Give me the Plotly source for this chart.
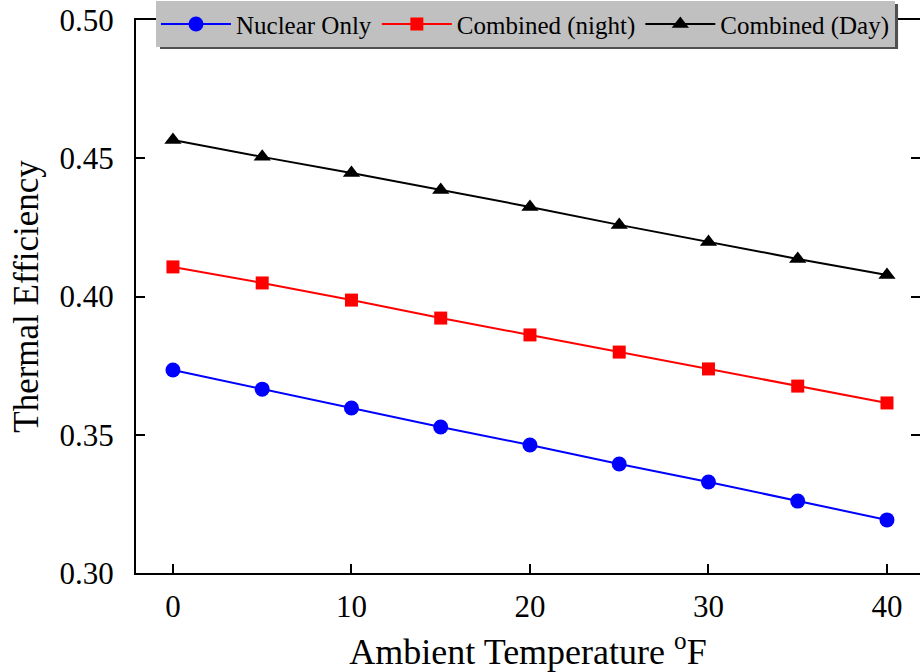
import plotly.graph_objects as go

temps = [0, 5, 10, 15, 20, 25, 30, 35, 40]
nuclear_only = [0.3734, 0.3665, 0.3597, 0.3528, 0.3463, 0.3394, 0.3329, 0.3260, 0.3192]
combined_night = [0.4107, 0.4049, 0.3987, 0.3922, 0.3861, 0.3799, 0.3738, 0.3676, 0.3615]
combined_day = [0.4566, 0.4505, 0.4447, 0.4385, 0.4324, 0.4259, 0.4197, 0.4136, 0.4078]

y_ticks = [0.30, 0.35, 0.40, 0.45, 0.50]
x_ticks = [0, 10, 20, 30, 40]

FONT = "Liberation Serif, Times New Roman, serif"

fig = go.Figure()
fig.add_trace(go.Scatter(x=temps, y=nuclear_only, mode="lines+markers", name="Nuclear Only",
                         line=dict(color="#0000ff", width=2),
                         marker=dict(symbol="circle", size=15, color="#0000ff")))
fig.add_trace(go.Scatter(x=temps, y=combined_night, mode="lines+markers", name="Combined (night)",
                         line=dict(color="#ff0000", width=2),
                         marker=dict(symbol="square", size=13, color="#ff0000")))
fig.add_trace(go.Scatter(x=temps, y=combined_day, mode="lines+markers", name="Combined (Day)",
                         line=dict(color="#000000", width=2),
                         marker=dict(symbol="triangle-up", size=15, color="#000000")))
# invisible trace to carry the right-hand tick axis
fig.add_trace(go.Scatter(x=[temps[0]], y=[nuclear_only[0]], yaxis="y2", mode="markers",
                         marker=dict(opacity=0), showlegend=False, hoverinfo="skip"))

fig.update_layout(
    width=920, height=672,
    margin=dict(l=136, r=0, t=20, b=99, autoexpand=False),
    paper_bgcolor="white", plot_bgcolor="white",
    font=dict(family=FONT, color="black"),
    showlegend=True,
    legend=dict(orientation="h", x=0.0255, xanchor="left", y=1.034, yanchor="top",
                bgcolor="#c0c0c0", borderwidth=0,
                font=dict(family=FONT, size=25, color="black"),
                itemwidth=70, tracegroupgap=0),
    xaxis=dict(range=[-2.07, 41.85], tickvals=x_ticks, ticks="inside", ticklen=9, tickwidth=2,
               tickcolor="black", showline=True, linewidth=2, linecolor="black", mirror=True,
               showgrid=False, zeroline=False,
               tickfont=dict(family=FONT, size=31), ticklabelstandoff=5,
               title=dict(text="Ambient Temperature <sup>o</sup>F", font=dict(family=FONT, size=36),
                          standoff=20)),
    yaxis=dict(range=[0.30, 0.50], tickvals=y_ticks, tickformat=".2f", ticks="inside", ticklen=9,
               tickwidth=2, tickcolor="black", showline=True, linewidth=2, linecolor="black",
               mirror=False, showgrid=False, zeroline=False,
               tickfont=dict(family=FONT, size=31), ticklabelstandoff=14,
               title=dict(text="Thermal Efficiency", font=dict(family=FONT, size=35), standoff=10)),
    yaxis2=dict(overlaying="y", side="right", matches="y", tickvals=y_ticks, ticks="inside",
                ticklen=9, tickwidth=2, tickcolor="black", showticklabels=False, showline=False,
                showgrid=False, zeroline=False),
)

# legend drop shadow
fig.add_shape(type="rect", xref="paper", yref="paper", x0=0.0306, x1=0.972, y0=0.9476, y1=1.029,
              fillcolor="#505050", line=dict(width=0), layer="above")

fig.write_html("out.html", post_script="document.body.style.margin='0';",
               config={"displayModeBar": False})
